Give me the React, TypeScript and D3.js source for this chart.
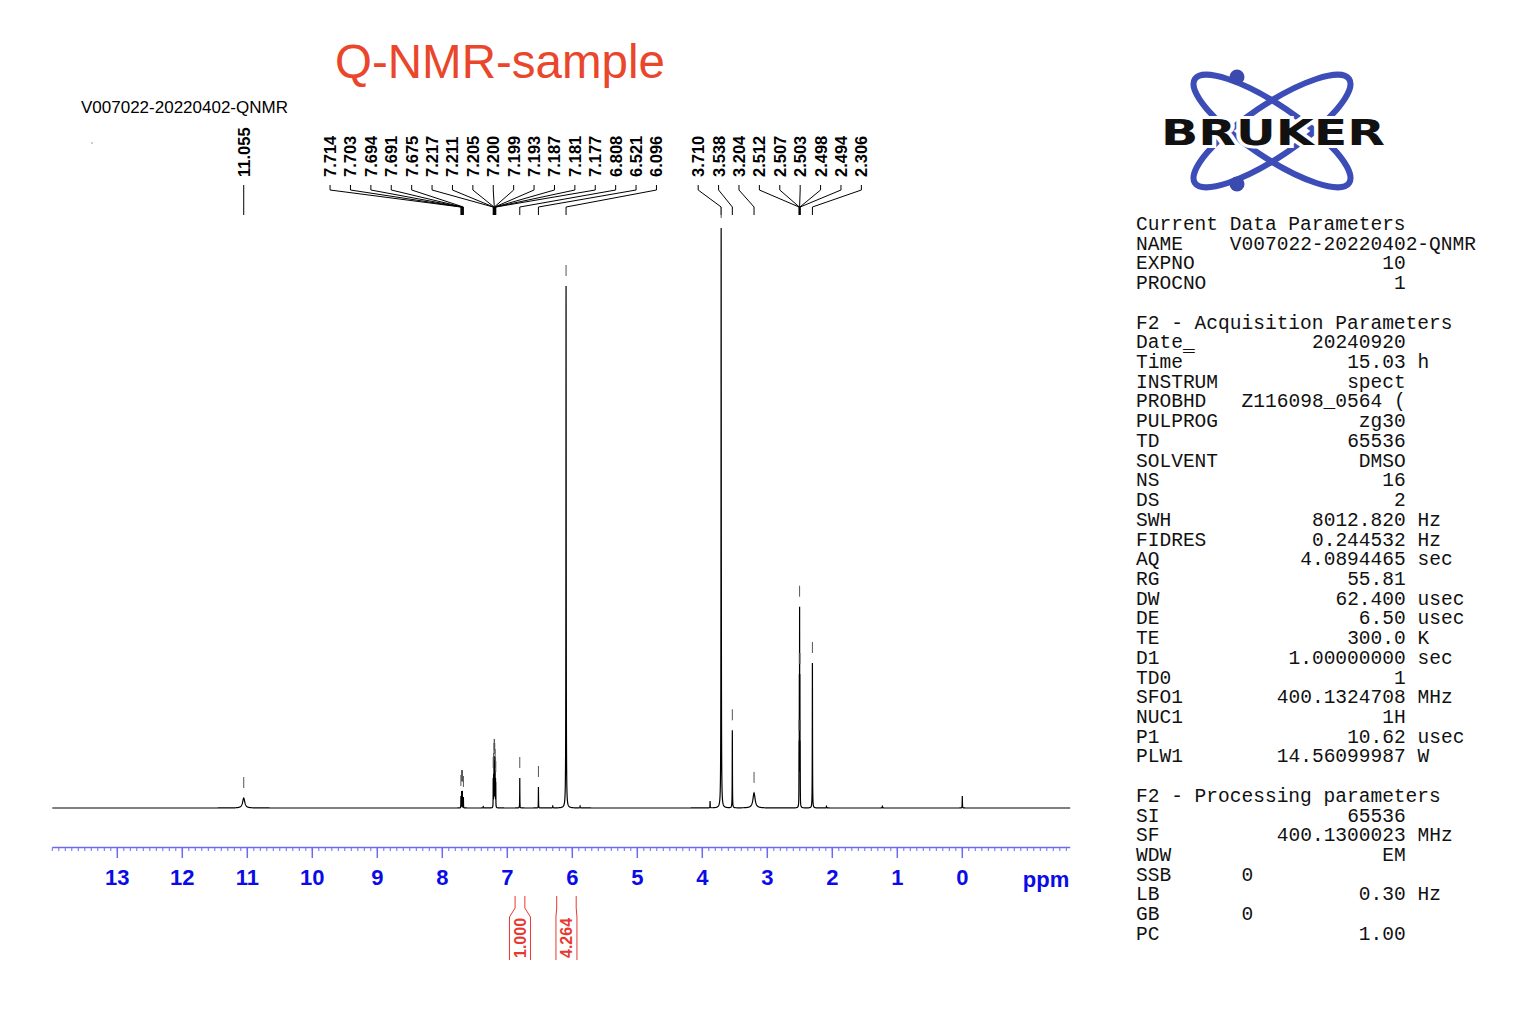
import React from "react";
import * as d3 from "d3";

// ---------- data ----------
const titleText = "Q-NMR-sample";
const sampleName = "V007022-20220402-QNMR";

// picked peaks: chemical shift (ppm), displayed height (rel. to 3.710 = 100), half width (ppm)
const peakPpm = [11.055, 7.714, 7.703, 7.694, 7.691, 7.675, 7.217, 7.211, 7.205, 7.2, 7.199, 7.193, 7.187, 7.181, 7.177, 6.808, 6.521, 6.096, 3.71, 3.538, 3.204, 2.512, 2.507, 2.503, 2.498, 2.494, 2.306];
const peakHeight = [1.72, 2.07, 2.93, 2.76, 2.93, 1.9, 5.17, 5.86, 7.59, 8.28, 8.28, 7.59, 6.55, 5.17, 4.48, 5.17, 3.62, 90.0, 100, 13.4, 2.6, 11.6, 23.1, 34.7, 23.1, 11.6, 25.0];
const peakWidth = [0.02, 0.0012, 0.0012, 0.0012, 0.0012, 0.0012, 0.0012, 0.0012, 0.0012, 0.0012, 0.0012, 0.0012, 0.0012, 0.0012, 0.0012, 0.0015, 0.0015, 0.0025, 0.0025, 0.002, 0.02, 0.0012, 0.0012, 0.0012, 0.0012, 0.0012, 0.002];

// small unlabelled signals
const minorPpm = [3.88, 0.0, 6.3, 5.88, 2.09, 1.23, 7.37];
const minorHeight = [1.2, 2.07, 0.35, 0.35, 0.3, 0.3, 0.25];
const minorWidth = [0.002, 0.002, 0.003, 0.003, 0.003, 0.003, 0.003];

// integrals
const integralFrom = [6.88, 6.24];
const integralTo = [6.73, 5.94];
const integralValue = ["1.000", "4.264"];

// axis
const axisTicks = [13, 12, 11, 10, 9, 8, 7, 6, 5, 4, 3, 2, 1, 0];

// parameter table
const curNames = ["NAME", "EXPNO", "PROCNO"];
const curValues = ["V007022-20220402-QNMR", "10", "1"];
const curUnits = ["", "", ""];
const acqNames = ["Date_", "Time\u00af", "INSTRUM", "PROBHD", "PULPROG", "TD", "SOLVENT", "NS", "DS", "SWH", "FIDRES", "AQ", "RG", "DW", "DE", "TE", "D1", "TD0", "SFO1", "NUC1", "P1", "PLW1"];
const acqValues = ["20240920", "15.03", "spect", "Z116098_0564 (", "zg30", "65536", "DMSO", "16", "2", "8012.820", "0.244532", "4.0894465", "55.81", "62.400", "6.50", "300.0", "1.00000000", "1", "400.1324708", "1H", "10.62", "14.56099987"];
const acqUnits = ["", "h", "", "", "", "", "", "", "", "Hz", "Hz", "sec", "", "usec", "usec", "K", "sec", "", "MHz", "", "usec", "W"];
const procNames = ["SI", "SF", "WDW", "SSB", "LB", "GB", "PC"];
const procValues = ["65536", "400.1300023", "EM", "0", "0.30", "0", "1.00"];
const procUnits = ["", "MHz", "", "", "Hz", "", ""];
const leftAlignedCol: Record<string, number> = { NAME: 8, SSB: 9, GB: 9 };

// ---------- layout ----------
const W = 1522;
const H = 1032;
const BASE_Y = 808;
const xScale = d3.scaleLinear().domain([13, 0]).range([117.3, 962.3]);
const yScale = d3.scaleLinear().domain([0, 100]).range([BASE_Y, 228]);
const PPM_LEFT = 14.0;
const PPM_RIGHT = -1.66;

const lor = (d: number, w: number) => 1 / (1 + (d / w) * (d / w));

function solve(M: number[][], b: number[]): number[] {
  const n = b.length;
  const A = M.map((r, i) => [...r, b[i]]);
  for (let c = 0; c < n; c++) {
    let piv = c;
    for (let r = c + 1; r < n; r++) if (Math.abs(A[r][c]) > Math.abs(A[piv][c])) piv = r;
    [A[c], A[piv]] = [A[piv], A[c]];
    for (let r = 0; r < n; r++) {
      if (r === c) continue;
      const f = A[r][c] / A[c][c];
      for (let k = c; k <= n; k++) A[r][k] -= f * A[c][k];
    }
  }
  return A.map((r, i) => Math.max(0, r[n] / r[i]));
}

function buildSpectrum() {
  const ppm = [...peakPpm, ...minorPpm];
  const hts = [...peakHeight, ...minorHeight];
  const wid = [...peakWidth, ...minorWidth];
  const M = ppm.map((pi) => ppm.map((pj, j) => lor(pi - pj, wid[j])));
  const amp = solve(M, hts);
  const pts: number[] = [];
  for (let p = PPM_LEFT; p >= PPM_RIGHT; p -= 0.004) pts.push(p);
  pts.push(PPM_RIGHT);
  ppm.forEach((p, i) => {
    const w = wid[i];
    const span = Math.max(25 * w, 0.03);
    const step = w / 5;
    for (let q = p - span; q <= p + span; q += step) pts.push(q);
    pts.push(p);
  });
  pts.sort((a, b) => b - a);
  return pts
    .filter((p) => p <= PPM_LEFT && p >= PPM_RIGHT)
    .map((p) => {
      let v = 0;
      for (let i = 0; i < ppm.length; i++) v += amp[i] * lor(p - ppm[i], wid[i]);
      return { p, v };
    });
}

function layoutLabels(sp: number) {
  let groups = peakPpm.map((p, i) => ({ idx: [i], center: xScale(p) }));
  let changed = true;
  while (changed) {
    changed = false;
    for (let g = 0; g < groups.length - 1; g++) {
      const a = groups[g];
      const b = groups[g + 1];
      const aEnd = a.center + ((a.idx.length - 1) / 2) * sp;
      const bStart = b.center - ((b.idx.length - 1) / 2) * sp;
      if (bStart - aEnd < sp) {
        const idx = [...a.idx, ...b.idx];
        const center = d3.mean(idx, (i) => xScale(peakPpm[i])) as number;
        groups.splice(g, 2, { idx, center });
        changed = true;
        break;
      }
    }
  }
  const pos: number[] = new Array(peakPpm.length).fill(0);
  groups.forEach((g) => {
    g.idx.forEach((i, k) => {
      pos[i] = g.center + (k - (g.idx.length - 1) / 2) * sp;
    });
  });
  return pos;
}

const CHAR_W = 11.73;
const PARAM_X = 1136;
const PARAM_Y0 = 230;
const PARAM_DY = 19.72;

type Row = { name: string; value: string; unit: string; header?: boolean };

function paramRows(): (Row | null)[] {
  const rows: (Row | null)[] = [];
  rows.push({ name: "Current Data Parameters", value: "", unit: "", header: true });
  curNames.forEach((n, i) => rows.push({ name: n, value: curValues[i], unit: curUnits[i] }));
  rows.push(null);
  rows.push({ name: "F2 - Acquisition Parameters", value: "", unit: "", header: true });
  acqNames.forEach((n, i) => rows.push({ name: n, value: acqValues[i], unit: acqUnits[i] }));
  rows.push(null);
  rows.push({ name: "F2 - Processing parameters", value: "", unit: "", header: true });
  procNames.forEach((n, i) => rows.push({ name: n, value: procValues[i], unit: procUnits[i] }));
  return rows;
}

export default function App() {
  const spectrum = buildSpectrum();
  const line = d3
    .line<{ p: number; v: number }>()
    .x((d) => xScale(d.p))
    .y((d) => yScale(d.v));
  const labelX = layoutLabels(20.4);
  const minorTicks = d3.range(Math.ceil(PPM_RIGHT * 10), Math.floor(PPM_LEFT * 10) + 1).map((k) => k / 10);
  const rows = paramRows();
  const mono = "'Liberation Mono', 'Courier New', monospace";
  const sans = "'Liberation Sans', Arial, Helvetica, sans-serif";
  const red = "#e8382f";

  return (
    <svg width={W} height={H} style={{ position: "absolute", left: 0, top: 0, background: "#fff" }}>
      <rect x={0} y={0} width={W} height={H} fill="#fff" />
      {/* title */}
      <text x={500} y={78} textAnchor="middle" fontFamily={sans} fontSize={47.5} fill="#e9462c">
        {titleText}
      </text>
      <text x={81} y={113} fontFamily={sans} fontSize={17} fill="#000">
        {sampleName}
      </text>
      <circle cx={92} cy={143} r={0.7} fill="#777" />

      {/* peak labels and connectors */}
      {peakPpm.map((p, i) => {
        const lx = labelX[i];
        const px = xScale(p);
        return (
          <g key={"lab" + i}>
            <text
              transform={`translate(${lx},177) rotate(-90)`}
              dy="0.36em"
              fontFamily={sans}
              fontWeight="bold"
              fontSize={16.5}
              fill="#000"
            >
              {p.toFixed(3)}
            </text>
            <path
              d={`M${lx},185 L${lx},190 L${px},207 L${px},215`}
              fill="none"
              stroke="#000"
              strokeWidth={1}
            />
          </g>
        );
      })}

      {/* spectrum */}
      <path d={line(spectrum) || ""} fill="none" stroke="#000" strokeWidth={1.2} />

      {/* peak pick markers */}
      {peakPpm.map((p, i) => {
        const px = xScale(p);
        const top = yScale(peakHeight[i]);
        return <line key={"mk" + i} x1={px} x2={px} y1={top - 21} y2={top - 10} stroke="#555" strokeWidth={1} />;
      })}

      {/* axis */}
      <line x1={xScale(PPM_LEFT)} x2={xScale(PPM_RIGHT)} y1={847.5} y2={847.5} stroke="#6b6bf2" strokeWidth={1.5} />
      {minorTicks.map((t) => (
        <line key={"mt" + t} x1={xScale(t)} x2={xScale(t)} y1={847.5} y2={851} stroke="#6b6bf2" strokeWidth={1} />
      ))}
      {axisTicks.map((t) => (
        <g key={"t" + t}>
          <line x1={xScale(t)} x2={xScale(t)} y1={847.5} y2={858} stroke="#6b6bf2" strokeWidth={1.5} />
          <text x={xScale(t)} y={885} textAnchor="middle" fontFamily={sans} fontWeight="bold" fontSize={22} fill="#0b0be8">
            {t}
          </text>
        </g>
      ))}
      <text x={1046} y={887} textAnchor="middle" fontFamily={sans} fontWeight="bold" fontSize={22} fill="#0b0be8">
        ppm
      </text>

      {/* integrals */}
      {integralFrom.map((f, i) => {
        const x1 = xScale(f);
        const x2 = xScale(integralTo[i]);
        const cx = (x1 + x2) / 2;
        const half = Math.max((x2 - x1) / 2, 10.5);
        return (
          <g key={"int" + i}>
            <path d={`M${x1},896 L${x1},908 L${cx - half},917 L${cx - half},960`} fill="none" stroke={red} strokeWidth={1} />
            <path d={`M${x2},896 L${x2},908 L${cx + half},917 L${cx + half},960`} fill="none" stroke={red} strokeWidth={1} />
            <text
              transform={`translate(${cx},958) rotate(-90)`}
              dy="0.36em"
              fontFamily={sans}
              fontWeight="bold"
              fontSize={16}
              fill={red}
            >
              {integralValue[i]}
            </text>
          </g>
        );
      })}

      {/* Bruker logo */}
      <g>
        <ellipse cx={1272} cy={131} rx={93} ry={26} transform="rotate(34 1272 131)" fill="none" stroke="#3d4db7" strokeWidth={6} />
        <ellipse cx={1272} cy={131} rx={93} ry={26} transform="rotate(-34 1272 131)" fill="none" stroke="#3d4db7" strokeWidth={6} />
        <circle cx={1237} cy={77} r={7.5} fill="#3a4aae" />
        <circle cx={1237} cy={184} r={7.5} fill="#3a4aae" />
        <text
          x={1161}
          y={145}
          fontFamily="'DejaVu Sans', 'Liberation Sans', Arial, sans-serif"
          fontWeight="bold"
          fontSize={35}
          textLength={224}
          lengthAdjust="spacingAndGlyphs"
          fill="#111"
          stroke="#fff"
          strokeWidth={6}
          paintOrder="stroke"
        >
          BRUKER
        </text>
      </g>

      {/* parameters */}
      {rows.map((r, i) => {
        if (!r) return null;
        const y = PARAM_Y0 + i * PARAM_DY;
        const els: React.ReactNode[] = [];
        els.push(
          <text key="n" x={PARAM_X} y={y} fontFamily={mono} fontSize={19.55} fill="#111" style={{ whiteSpace: "pre" }}>
            {r.name}
          </text>
        );
        if (r.value) {
          const col = leftAlignedCol[r.name] !== undefined ? leftAlignedCol[r.name] : 23 - r.value.length;
          els.push(
            <text key="v" x={PARAM_X + col * CHAR_W} y={y} fontFamily={mono} fontSize={19.55} fill="#111" style={{ whiteSpace: "pre" }}>
              {r.value}
            </text>
          );
        }
        if (r.unit) {
          els.push(
            <text key="u" x={PARAM_X + 24 * CHAR_W} y={y} fontFamily={mono} fontSize={19.55} fill="#111">
              {r.unit}
            </text>
          );
        }
        return <g key={"row" + i}>{els}</g>;
      })}
    </svg>
  );
}
